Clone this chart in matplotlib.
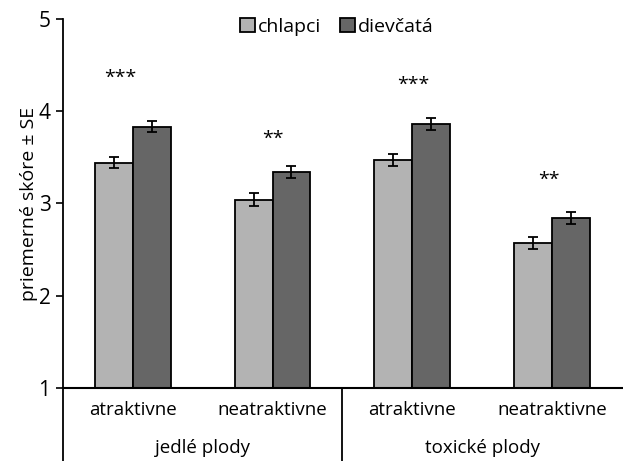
import matplotlib
matplotlib.use("Agg")
import matplotlib.pyplot as plt
import numpy as np
from matplotlib.patches import Patch

plt.rcParams['font.family'] = ['Open Sans', 'DejaVu Sans']

categories = ["atraktivne", "neatraktivne", "atraktivne", "neatraktivne"]
groups = ["jedlé plody", "toxické plody"]
series_names = ["chlapci", "dievčatá"]
boys = [3.44, 3.04, 3.47, 2.57]
girls = [3.83, 3.34, 3.86, 2.84]
boys_se = [0.06, 0.07, 0.065, 0.065]
girls_se = [0.06, 0.065, 0.065, 0.065]
sig_labels = ["***", "**", "***", "**"]
sig_x = [-0.09, 0.0, 0.01, -0.02]
sig_y = [4.36, 3.70, 4.29, 3.26]

light = "#b3b3b3"
dark = "#666666"

fig = plt.figure(figsize=(6.23, 4.61), dpi=100)
ax = fig.add_axes([0.1011, 0.1584, 0.8969, 0.8004])

x = np.arange(len(categories))
w = 0.27
ax.bar(x - w/2, boys, w, color=light, edgecolor="black", linewidth=1.3,
       yerr=boys_se, error_kw=dict(ecolor="black", elinewidth=1.3, capsize=3.5, capthick=1.3))
ax.bar(x + w/2, girls, w, color=dark, edgecolor="black", linewidth=1.3,
       yerr=girls_se, error_kw=dict(ecolor="black", elinewidth=1.3, capsize=3.5, capthick=1.3))

for i, s in enumerate(sig_labels):
    ax.text(x[i] + sig_x[i], sig_y[i], s, ha="center", va="center", fontsize=14)

ax.set_ylim(1, 5)
ax.set_xlim(-0.5, 3.5)
ax.set_yticks([1, 2, 3, 4, 5])
ax.set_yticklabels(["1", "2", "3", "4", "5"], fontsize=15)
ax.tick_params(axis="y", direction="out", length=5, width=1.2, pad=4)
ax.set_xticks([])
for sp in ["top", "right"]:
    ax.spines[sp].set_visible(False)
ax.spines["left"].set_linewidth(1.3)
ax.spines["bottom"].set_linewidth(1.5)
ax.set_ylabel("priemerné skóre ± SE", fontsize=14, labelpad=0)

# category and group labels
for i, c in enumerate(categories):
    ax.text(x[i], -0.06, c, transform=ax.get_xaxis_transform(), ha="center", va="center", fontsize=13.5)
for g, gx in zip(groups, [0.5, 2.5]):
    ax.text(gx, -0.163, g, transform=ax.get_xaxis_transform(), ha="center", va="center", fontsize=13.5)

# vertical lines below axis
ax.plot([0, 0], [0, -0.2], transform=ax.transAxes, color="black", lw=1.3, clip_on=False)
ax.plot([0.5, 0.5], [0, -0.2], transform=ax.transAxes, color="black", lw=1.3, clip_on=False)

handles = [Patch(facecolor=light, edgecolor="black", linewidth=1.3),
           Patch(facecolor=dark, edgecolor="black", linewidth=1.3)]
ax.legend(handles, series_names, loc="upper center", bbox_to_anchor=(0.49, 1.05), ncol=2,
          frameon=False, fontsize=14, handlelength=0.75, handleheight=0.75,
          handletextpad=0.15, columnspacing=1.0)

fig.savefig("out.png", dpi=100)
